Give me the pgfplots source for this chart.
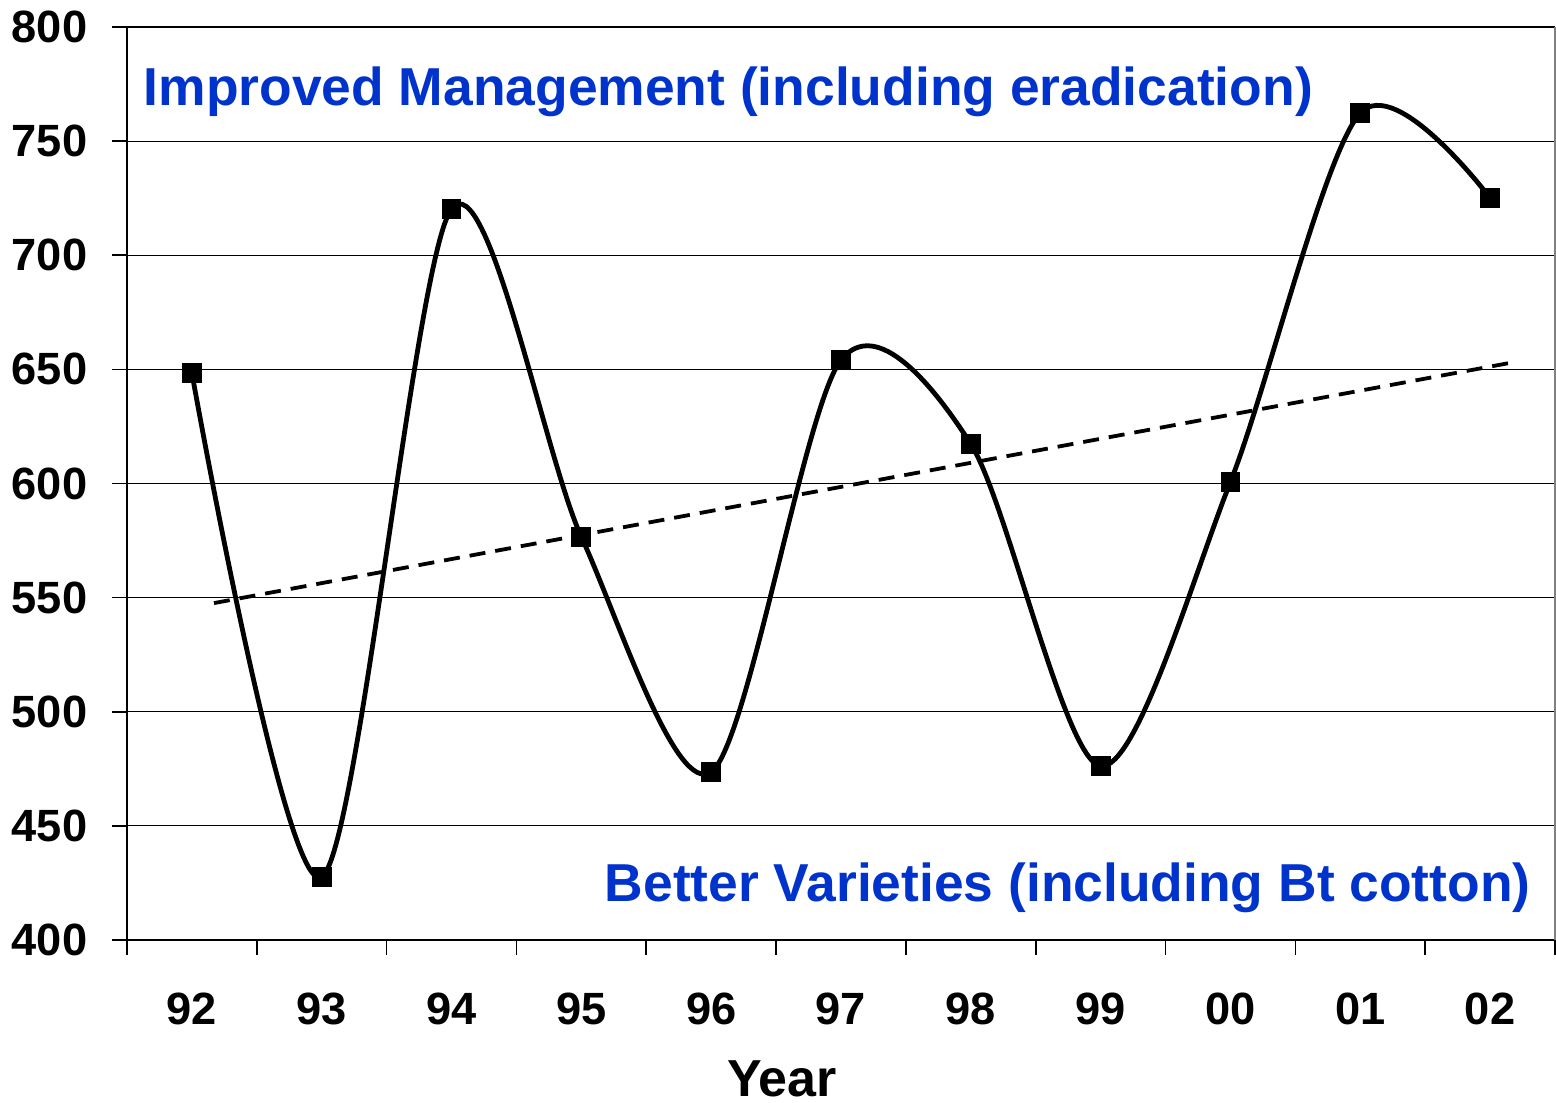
\documentclass[border=0pt]{standalone}
\usepackage{pgfplots}
\pgfplotsset{compat=1.18}
\usepackage{fontspec}
\setmainfont{Liberation Sans}
\definecolor{annblue}{RGB}{0,51,204}
\begin{document}
\begin{tikzpicture}
\begin{axis}[
  at={(0,0)}, anchor=south west,
  scale only axis, width=357pt, height=228.25pt,
  xmin=-0.5, xmax=10.5, ymin=400, ymax=800,
  axis lines=left, axis line style={-, line width=0.5pt},
  xtick={0,...,10},
  xticklabels={92,93,94,95,96,97,98,99,00,01,02},
  minor xtick={-0.5,0.5,...,10.5},
  ytick={400,450,...,800},
  tick align=outside,
  major tick length=3.75pt, minor tick length=3.75pt,
  major x tick style={draw=none},
  minor x tick style={black, line width=0.4pt},
  major y tick style={black, line width=0.4pt},
  ymajorgrids, major grid style={black, line width=0.3pt},
  /pgf/number format/assume math mode=true,
  ticklabel style={font=\bfseries\fontsize{11.3}{13}\selectfont, inner sep=0pt},
  xticklabel style={anchor=base, yshift=-17.5pt},
  yticklabel style={anchor=east, xshift=-6pt},
  xlabel={Year},
  xlabel style={at={(rel axis cs:0.4587,0)}, anchor=base, yshift=-39.25pt, inner sep=0pt, font=\bfseries\fontsize{13}{15}\selectfont},
  clip=false,
]
\addplot[black, line width=1.2pt, smooth, tension=0.5, mark=square*, mark size=2.3pt,
  mark options={solid, fill=black, line width=0.35pt}]
  coordinates {(0,648.4) (1,427.6) (2,720.3) (3,576.6) (4,473.6) (5,654.1) (6,617.3) (7,476.2) (8,600.7) (9,762.3) (10,725.1)};
\addplot[black, line width=0.95pt, dash pattern=on 4pt off 2.5pt, no marks]
  coordinates {(0.17,547.6) (10.15,652.8)};
\draw[black, line width=0.5pt] (rel axis cs:0,1) -- (rel axis cs:1,1);
\draw[gray, line width=0.3pt] (rel axis cs:1,0) -- (rel axis cs:1,1);
\node[anchor=base west, text=annblue, inner sep=0pt, font=\bfseries\fontsize{13.35}{16}\selectfont] at (axis cs:-0.377,765.8) {Improved Management (including eradication)};
\node[anchor=base west, text=annblue, inner sep=0pt, font=\bfseries\fontsize{13.35}{16}\selectfont] at (axis cs:3.175,416.7) {Better Varieties (including Bt cotton)};
\end{axis}
\pgfresetboundingbox
\path (-31.75pt,-40.75pt) rectangle (357.25pt,235pt);
\end{tikzpicture}
\end{document}
